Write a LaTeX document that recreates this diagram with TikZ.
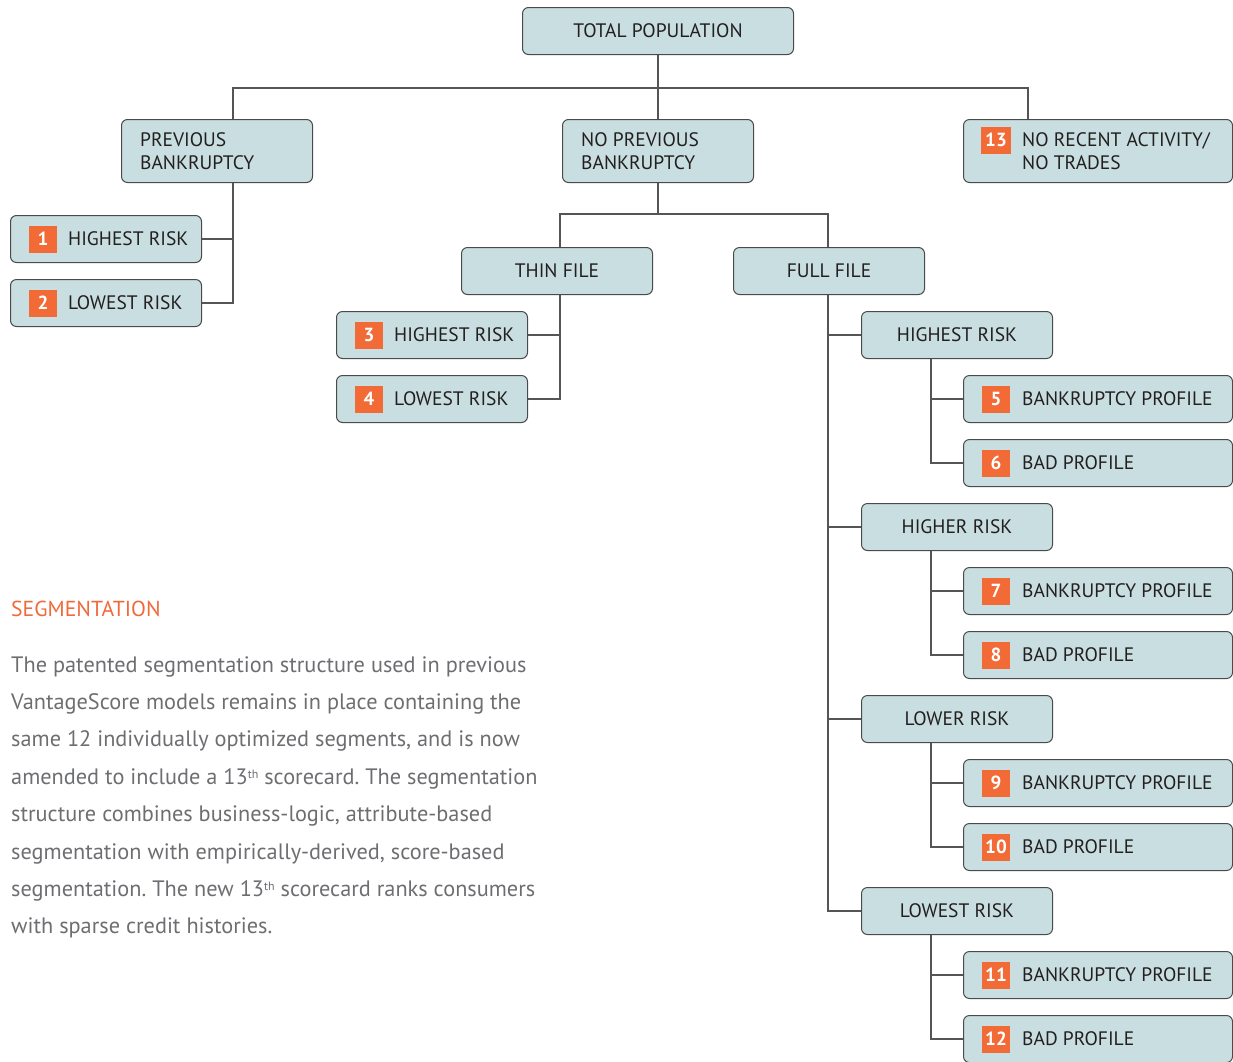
\documentclass[tikz,border=0pt]{standalone}
\usepackage{fontspec}
\setmainfont{PT Sans}
\usetikzlibrary{calc}
\frenchspacing
\definecolor{boxfill}{HTML}{C9DEE0}
\definecolor{boxline}{HTML}{4A4A4A}
\definecolor{conncol}{HTML}{555555}
\definecolor{badge}{HTML}{F26A36}
\definecolor{heading}{HTML}{F0693A}
\definecolor{bodygray}{HTML}{6D6E71}
\definecolor{ink}{HTML}{231F20}
\tikzset{
  x=1pt, y=-1pt,
  boxstyle/.style={draw=boxline, fill=boxfill, line width=1pt, rounded corners=6pt, inner sep=0pt, anchor=north west, minimum height=47pt},
  tallbox/.style={boxstyle, minimum height=63pt, minimum width=191pt},
  midbox/.style={boxstyle, minimum width=191pt},
  leafbox/.style={boxstyle, minimum width=191pt},
  rleafbox/.style={boxstyle, minimum width=269pt},
  lbl/.style={anchor=west, inner sep=0pt, font=\fontsize{19.5}{23}\selectfont, text=ink, align=left},
  badgebox/.style={fill=badge, text=white, inner sep=0pt, minimum width=28pt, minimum height=27pt, font=\bfseries\fontsize{19}{20}\selectfont},
  conn/.style={draw=conncol, line width=1.2pt},
}
\begin{document}
\begin{tikzpicture}
\useasboundingbox (0,0) rectangle (1233,1061);
\clip (0,0) rectangle (1233,1061);

% level 0
\node[midbox, minimum width=271pt] (tp) at (522,7) {};
\node[lbl, anchor=center] (tpt) at (tp.center) {TOTAL POPULATION};

% level 1
\node[tallbox] (pb) at (121,119) {};
\node[lbl] (pbt) at ($(pb.west)+(19,0)$) {PREVIOUS\\BANKRUPTCY};
\node[tallbox] (npb) at (562,119) {};
\node[lbl] (npbt) at ($(npb.west)+(19,0)$) {NO PREVIOUS\\BANKRUPTCY};
\node[tallbox, minimum width=269pt] (b13) at (963,119) {};
\node[badgebox, minimum width=30pt] (n13) at ($(b13.west)+(33,-11)$) {13};
\node[lbl] (b13t) at ($(b13.west)+(59,0)$) {NO RECENT ACTIVITY/\\NO TRADES};

% previous bankruptcy leaves
\node[leafbox] (b1) at (10,215) {};
\node[badgebox] (n1) at ($(b1.west)+(33,0)$) {1};
\node[lbl] (b1t) at ($(b1.west)+(58,0)$) {HIGHEST RISK};
\node[leafbox] (b2) at (10,279) {};
\node[badgebox] (n2) at ($(b2.west)+(33,0)$) {2};
\node[lbl] (b2t) at ($(b2.west)+(58,0)$) {LOWEST RISK};

% thin / full
\node[midbox] (thin) at (461,247) {};
\node[lbl, anchor=center] (thint) at (thin.center) {THIN FILE};
\node[midbox] (full) at (733,247) {};
\node[lbl, anchor=center] (fullt) at (full.center) {FULL FILE};

% thin leaves
\node[leafbox] (b3) at (336,311) {};
\node[badgebox] (n3) at ($(b3.west)+(33,0)$) {3};
\node[lbl] (b3t) at ($(b3.west)+(58,0)$) {HIGHEST RISK};
\node[leafbox] (b4) at (336,375) {};
\node[badgebox] (n4) at ($(b4.west)+(33,0)$) {4};
\node[lbl] (b4t) at ($(b4.west)+(58,0)$) {LOWEST RISK};

% full file risk levels
\node[midbox] (r1) at (861,311) {};
\node[lbl, anchor=center] (r1t) at (r1.center) {HIGHEST RISK};
\node[midbox] (r2) at (861,503) {};
\node[lbl, anchor=center] (r2t) at (r2.center) {HIGHER RISK};
\node[midbox] (r3) at (861,695) {};
\node[lbl, anchor=center] (r3t) at (r3.center) {LOWER RISK};
\node[midbox] (r4) at (861,887) {};
\node[lbl, anchor=center] (r4t) at (r4.center) {LOWEST RISK};

% right leaves
\foreach \n/\y/\t in {5/375/BANKRUPTCY PROFILE, 6/439/BAD PROFILE, 7/567/BANKRUPTCY PROFILE, 8/631/BAD PROFILE, 9/759/BANKRUPTCY PROFILE, 10/823/BAD PROFILE, 11/951/BANKRUPTCY PROFILE, 12/1015/BAD PROFILE}{
  \node[rleafbox] (b\n) at (963,\y) {};
  \node[badgebox] (n\n) at ($(b\n.west)+(33,0)$) {\n};
  \node[lbl] (b\n t) at ($(b\n.west)+(59,0)$) {\t};
}

% connectors
\coordinate (bus) at (657,88);
\coordinate (pbj) at ($(pb.north west)+(112,0)$);
\coordinate (b13j) at ($(b13.north west)+(65,0)$);
\draw[conn] (tp.south) -- (npb.north);
\draw[conn] (pbj) -- (pbj |- bus) -- (b13j |- bus) -- (b13j);
\coordinate (pbs) at ($(pb.south west)+(112,0)$);
\draw[conn] (pbs) |- (b1.east);
\draw[conn] (pbs) |- (b2.east);

\coordinate (bus2) at (657,214);
\coordinate (thinj) at ($(thin.north west)+(99,0)$);
\coordinate (fullj) at ($(full.north west)+(95,0)$);
\draw[conn] (npb.south) -- (npb.south |- bus2);
\draw[conn] (thinj) -- (thinj |- bus2) -- (fullj |- bus2) -- (fullj);
\coordinate (thins) at ($(thin.south west)+(99,0)$);
\draw[conn] (thins) |- (b3.east);
\draw[conn] (thins) |- (b4.east);

\coordinate (fulls) at ($(full.south west)+(95,0)$);
\draw[conn] (fulls) |- (r1.west);
\draw[conn] (fulls) |- (r2.west);
\draw[conn] (fulls) |- (r3.west);
\draw[conn] (fulls) |- (r4.west);

\foreach \r/\a/\b in {r1/5/6, r2/7/8, r3/9/10, r4/11/12}{
  \coordinate (\r s) at ($(\r.south west)+(70,0)$);
  \draw[conn] (\r s) |- (b\a.west);
  \draw[conn] (\r s) |- (b\b.west);
}

% text block
\node[anchor=base west, inner sep=0pt, text=heading, font=\fontsize{21.7}{24}\selectfont] (head) at (11,616) {SEGMENTATION};
\node[anchor=north west, inner sep=0pt, text=bodygray, align=left, font=\fontsize{22.3}{37.4}\selectfont] (body) at (11,656) {%
The patented segmentation structure used in previous\\
VantageScore models remains in place containing the\\
same 12 individually optimized segments, and is now\\
amended to include a 13{\fontsize{12}{12}\selectfont\raisebox{0.5em}{th}} scorecard. The segmentation\\
structure combines business-logic, attribute-based\\
segmentation with empirically-derived, score-based\\
segmentation. The new 13{\fontsize{12}{12}\selectfont\raisebox{0.5em}{th}} scorecard ranks consumers\\
with sparse credit histories.};
\end{tikzpicture}
\end{document}
